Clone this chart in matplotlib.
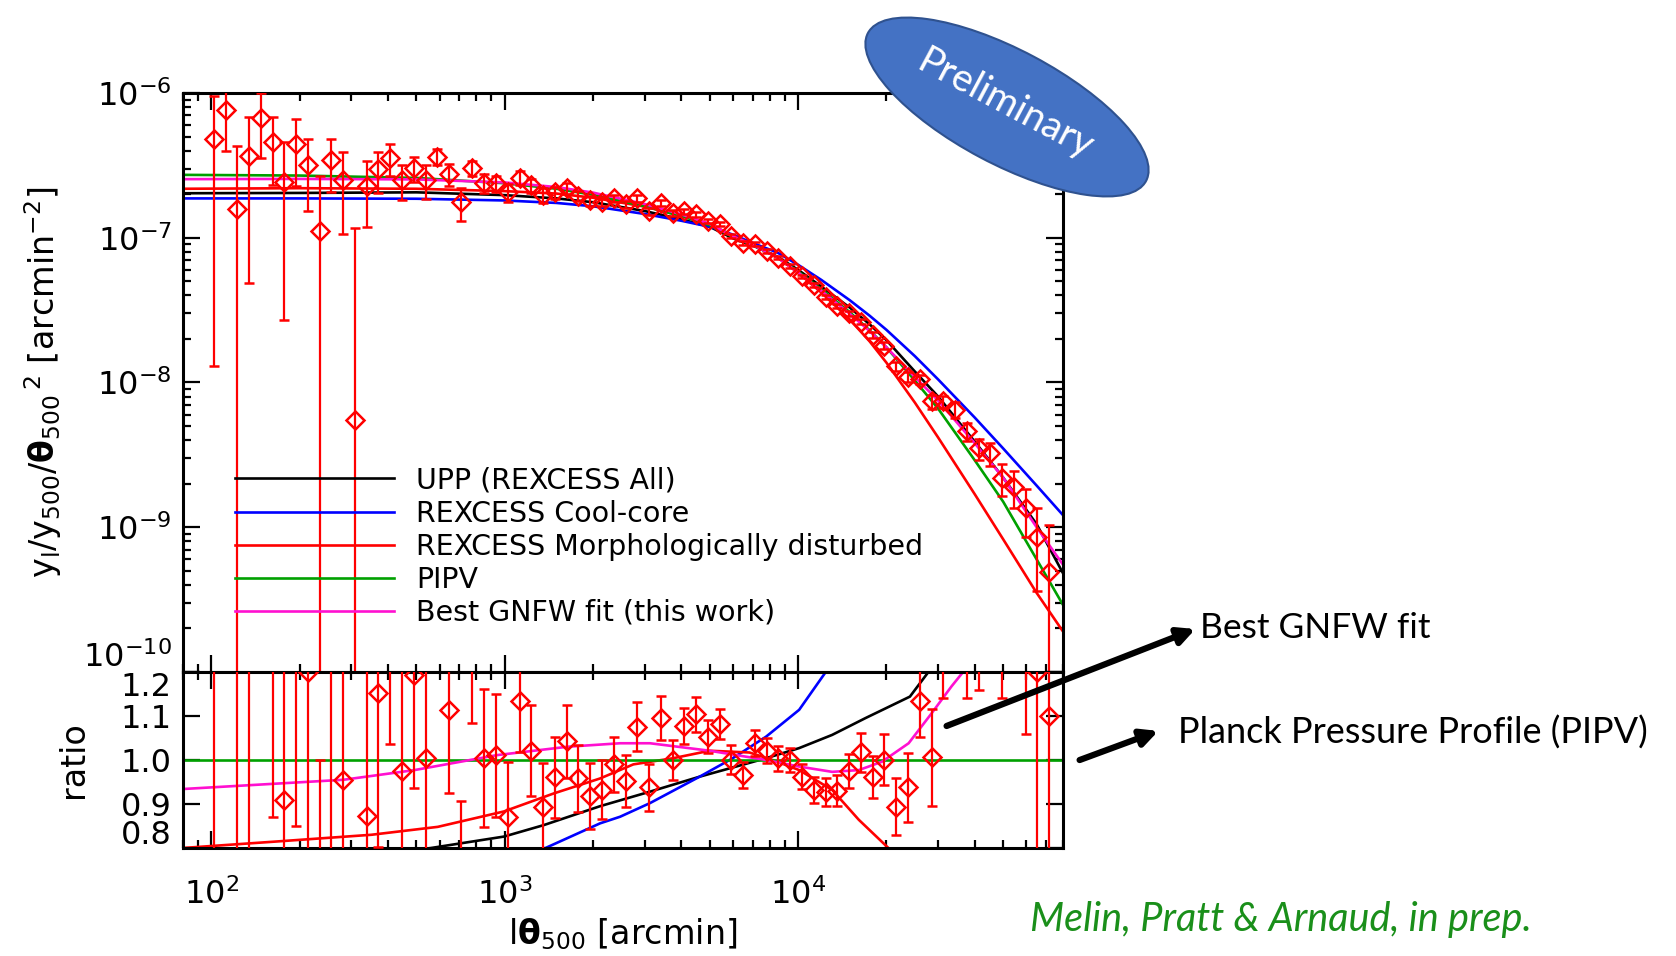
import matplotlib
matplotlib.use('Agg')
import matplotlib.pyplot as plt
import matplotlib.transforms as mtransforms
from matplotlib.patches import Ellipse
from matplotlib.ticker import FormatStrFormatter, NullLocator

plt.rcParams['font.family'] = 'DejaVu Sans'
plt.rcParams['mathtext.fontset'] = 'dejavusans'

# stacked profile (arcmin), y profile and its error
theta = [102, 112, 122, 134, 147, 162, 177, 194, 213, 234, 256, 281, 308, 338, 371, 407,
         446, 489, 537, 589, 646, 708, 776, 852, 934, 1024, 1123, 1232, 1351, 1482, 1625,
         1782, 1955, 2144, 2351, 2579, 2828, 3102, 3402, 3731, 4092, 4488, 4922, 5398, 5921,
         6493, 7122, 7811, 8566, 9395, 10300, 11300, 12400, 13600, 14900, 16360, 17940,
         19680, 21580, 23670, 25970, 28480, 31240, 34260, 37580, 41220, 45210, 49590, 54390,
         59660, 65440, 71770]
yprof = [4.8e-7, 7.6e-7, 1.58e-7, 3.67e-7, 6.76e-7, 4.56e-7, 2.44e-7, 4.45e-7, 3.18e-7,
         1.12e-7, 3.44e-7, 2.5e-7, 5.5e-9, 2.28e-7, 2.97e-7, 3.57e-7, 2.5e-7, 3.02e-7, 2.5e-7,
         3.63e-7, 2.74e-7, 1.76e-7, 3.02e-7, 2.4e-7, 2.38e-7, 2.06e-7, 2.6e-7, 2.3e-7, 1.97e-7,
         2.06e-7, 2.2e-7, 1.94e-7, 1.81e-7, 1.78e-7, 1.87e-7, 1.70e-7, 1.87e-7, 1.52e-7,
         1.73e-7, 1.48e-7, 1.52e-7, 1.45e-7, 1.31e-7, 1.25e-7, 1.03e-7, 9.25e-8, 9.05e-8,
         8.1e-8, 7.3e-8, 6.4e-8, 5.4e-8, 4.7e-8, 3.92e-8, 3.38e-8, 3.01e-8, 2.63e-8, 2.13e-8,
         1.8e-8, 1.3e-8, 1.1e-8, 1.05e-8, 7.4e-9, 7.4e-9, 6.5e-9, 4.6e-9, 3.5e-9, 3.24e-9,
         2.2e-9, 1.9e-9, 1.35e-9, 8.6e-10, 4.9e-10]
yprof_err = [4.67e-7, 3.6e-7, 2.72e-7, 3.18e-7, 3.2e-7, 2.25e-7, 2.17e-7, 2.18e-7, 1.65e-7,
             1.55e-7, 1.38e-7, 1.44e-7, 1.12e-7, 1.1e-7, 9.2e-8, 9.0e-8, 6.7e-8, 6.0e-8, 6.6e-8,
             4.7e-8, 4.7e-8, 4.6e-8, 3.7e-8, 3.5e-8, 3.0e-8, 2.8e-8, 3.0e-8, 2.6e-8, 2.2e-8,
             2.0e-8, 1.8e-8, 1.5e-8, 1.4e-8, 1.2e-8, 1.1e-8, 1.0e-8, 9.5e-9, 8.5e-9, 8.0e-9,
             6.5e-9, 5.8e-9, 5.2e-9, 4.6e-9, 4.0e-9, 3.4e-9, 2.8e-9, 2.7e-9, 2.2e-9, 2.0e-9,
             1.8e-9, 1.6e-9, 1.5e-9, 1.3e-9, 1.3e-9, 1.2e-9, 1.1e-9, 1.0e-9, 1.0e-9, 9e-10,
             9e-10, 8e-10, 8e-10, 7e-10, 8e-10, 6.8e-10, 5.7e-10, 6e-10, 5.5e-10, 5.4e-10,
             5e-10, 5e-10, 5.4e-10]

# same profile divided by PIPV
ratio = [1.78, 2.85, 0.59, 1.36, 2.50, 1.69, 0.91, 1.65, 1.20, 0.42, 1.29, 0.955, 0.02,
         0.873, 1.152, 1.37, 0.975, 1.193, 1.004, 1.41, 1.114, 0.73, 1.23, 1.004, 1.011,
         0.871, 1.134, 1.021, 0.892, 0.961, 1.042, 0.958, 0.918, 0.932, 0.99, 0.952, 1.076,
         0.938, 1.095, 1.0, 1.078, 1.104, 1.053, 1.082, 1.0, 0.966, 1.038, 1.021, 1.004, 1.0,
         0.962, 0.932, 0.928, 0.93, 0.975, 1.017, 0.962, 1.0, 0.894, 0.938, 1.133, 1.006,
         1.25, 1.50, 1.31, 1.33, 1.60, 1.37, 1.60, 1.35, 1.20, 1.10]
ratio_err = [1.80, 1.35, 1.01, 1.20, 1.18, 0.82, 0.80, 0.80, 0.63, 0.58, 0.52, 0.55, 0.43,
             0.43, 0.35, 0.334, 0.26, 0.256, 0.26, 0.18, 0.19, 0.177, 0.145, 0.157, 0.14,
             0.125, 0.115, 0.104, 0.10, 0.092, 0.084, 0.077, 0.074, 0.067, 0.062, 0.06, 0.055,
             0.053, 0.05, 0.045, 0.041, 0.04, 0.037, 0.034, 0.033, 0.03, 0.03, 0.028, 0.028,
             0.028, 0.029, 0.03, 0.032, 0.035, 0.039, 0.044, 0.048, 0.058, 0.065, 0.078, 0.08,
             0.11, 0.11, 0.19, 0.17, 0.17, 0.30, 0.23, 0.35, 0.29, 0.70, 1.20]

# pressure profile models
model_theta = [80, 200, 500, 1000, 1500, 2000, 3000, 4000, 5000, 6000, 7000, 8500, 10000,
               12000, 15000, 17500, 20000, 25000, 30000, 40000, 50000, 65000, 80000]
upp = [2.03e-7, 2.04e-7, 2.06e-7, 1.97e-7, 1.87e-7, 1.76e-7, 1.53e-7, 1.34e-7, 1.19e-7,
       9.9e-8, 8.84e-8, 7.4e-8, 6.0e-8, 4.6e-8, 3.29e-8, 2.53e-8, 1.96e-8, 1.19e-8, 8.0e-9,
       3.9e-9, 2.2e-9, 1.05e-9, 4.8e-10]
cool_core = [1.87e-7, 1.87e-7, 1.86e-7, 1.81e-7, 1.74e-7, 1.65e-7, 1.46e-7, 1.31e-7, 1.19e-7,
             1.05e-7, 9.2e-8, 7.9e-8, 6.5e-8, 5.11e-8, 3.70e-8, 2.90e-8, 2.31e-8, 1.52e-8,
             1.05e-8, 5.72e-9, 3.5e-9, 1.94e-9, 1.21e-9]
disturbed = [2.18e-7, 2.2e-7, 2.18e-7, 2.1e-7, 2.02e-7, 1.89e-7, 1.64e-7, 1.42e-7, 1.246e-7,
             1.03e-7, 9.0e-8, 7.3e-8, 5.72e-8, 4.18e-8, 2.72e-8, 1.93e-8, 1.37e-8, 7.26e-9,
             4.17e-9, 1.69e-9, 8.25e-10, 3.52e-10, 1.9e-10]
pipv = [2.72e-7, 2.69e-7, 2.59e-7, 2.38e-7, 2.18e-7, 1.98e-7, 1.65e-7, 1.41e-7, 1.22e-7,
        1.01e-7, 8.9e-8, 7.33e-8, 5.85e-8, 4.4e-8, 3.06e-8, 2.3e-8, 1.75e-8, 1.03e-8, 6.6e-9,
        2.9e-9, 1.5e-9, 6.0e-10, 2.9e-10]
best_fit = [2.54e-7, 2.55e-7, 2.53e-7, 2.41e-7, 2.24e-7, 2.05e-7, 1.71e-7, 1.45e-7, 1.246e-7,
            1.02e-7, 8.94e-8, 7.3e-8, 5.76e-8, 4.3e-8, 2.98e-8, 2.27e-8, 1.75e-8, 1.09e-8,
            7.5e-9, 3.8e-9, 2.2e-9, 1.0e-9, 5.5e-10]

# models divided by PIPV
upp_ratio_x = [80, 200, 561, 995, 1358, 2113, 3126, 4613, 7775, 10080, 13060, 16940, 24040,
               27800, 78500]
upp_ratio = [0.747, 0.76, 0.80, 0.826, 0.852, 0.895, 0.928, 0.962, 1.004, 1.027, 1.057,
             1.095, 1.144, 1.2, 1.57]
cool_ratio_x = [80, 1377, 2113, 2472, 3126, 4613, 5985, 7775, 10080, 12420, 78500]
cool_ratio = [0.687, 0.80, 0.856, 0.871, 0.902, 0.962, 1.004, 1.053, 1.114, 1.2, 3.7]
dist_ratio_x = [80, 161, 351, 591, 993, 1469, 2113, 2743, 3750, 4990, 6820, 8180, 10080,
                13060, 16100, 20300, 30000]
dist_ratio = [0.80, 0.814, 0.83, 0.848, 0.883, 0.924, 0.958, 0.99, 1.004, 1.021, 1.017, 1.0,
              0.977, 0.932, 0.864, 0.80, 0.5]
best_ratio_x = [80, 282, 492, 940, 1633, 2472, 3126, 4990, 7775, 10080, 13060, 16100, 19300,
                23800, 28500, 33300, 36500, 78500]
best_ratio = [0.934, 0.955, 0.977, 1.011, 1.03, 1.038, 1.038, 1.021, 1.0, 0.985, 0.973, 0.977,
              0.996, 1.038, 1.106, 1.167, 1.2, 1.79]
pipv_ratio_x = [80, 80000]
pipv_ratio = [1.0, 1.0]

labels = ['UPP (REXCESS All)', 'REXCESS Cool-core', 'REXCESS Morphologically disturbed',
          'PIPV', 'Best GNFW fit (this work)']
colors = ['black', '#0000ff', '#ff0000', '#00a000', '#ff10d0']

fig = plt.figure(figsize=(16.76, 9.56), dpi=100)
ax = fig.add_axes([0.1092, 0.2971, 0.5251, 0.6056])
axr = fig.add_axes([0.1092, 0.1130, 0.5251, 0.1841], sharex=ax)

lw = 1.9
pts = dict(fmt='D', ms=9, mfc='none', mec='red', mew=1.8, ecolor='red', elinewidth=1.6,
           capsize=3.5, capthick=1.6, zorder=5)

for yy, lab, c in zip([upp, cool_core, disturbed, pipv, best_fit], labels, colors):
    ax.plot(model_theta, yy, color=c, lw=lw, label=lab)
ax.errorbar(theta, yprof, yerr=yprof_err, **pts)

ax.set_xscale('log')
ax.set_yscale('log', nonpositive='clip')
ax.set_xlim(80, 80000)
ax.set_ylim(1e-10, 1e-6)
ax.set_yticks([1e-10, 1e-9, 1e-8, 1e-7, 1e-6])
ax.set_ylabel(r'y$_{\rm l}$/y$_{500}$/$\mathbf{\theta}_{500}$$^{\,2}$ [arcmin$^{-2}$]',
              fontsize=24, labelpad=14)
ax.tick_params(labelbottom=False)

ax.legend(loc='upper left', bbox_to_anchor=(0.059, 0.355), frameon=False, fontsize=20.5,
          handlelength=5.6, handletextpad=0.77, labelspacing=0.18, borderpad=0,
          borderaxespad=0)

for xx, yy, c in zip([upp_ratio_x, cool_ratio_x, dist_ratio_x, pipv_ratio_x, best_ratio_x],
                     [upp_ratio, cool_ratio, dist_ratio, pipv_ratio, best_ratio], colors):
    axr.plot(xx, yy, color=c, lw=lw)
axr.errorbar(theta, ratio, yerr=ratio_err, **pts)
axr.set_ylim(0.8, 1.2)
axr.set_yticks([0.8, 0.9, 1.0, 1.1, 1.2])
axr.yaxis.set_minor_locator(NullLocator())
axr.yaxis.set_major_formatter(FormatStrFormatter('%.1f'))
axr.set_ylabel('ratio', fontsize=24, labelpad=22)
axr.set_xlabel(r'l$\mathbf{\theta}_{500}$ [arcmin]', fontsize=24, labelpad=4)

for a in (ax, axr):
    for s in a.spines.values():
        s.set_linewidth(2.2)
    a.tick_params(which='both', direction='in', top=True, right=True, width=1.6,
                  labelsize=23, pad=8)
    a.tick_params(which='major', length=12)
    a.tick_params(which='minor', length=6)
axr.tick_params(axis='x', which='major', pad=22)

# keep the panel-boundary labels apart
fig.canvas.draw()


def nudge(label, dy):
    label.set_transform(label.get_transform() +
                        mtransforms.ScaledTranslation(0, dy / 72, fig.dpi_scale_trans))


nudge(ax.get_yticklabels()[0], 13)
nudge(axr.get_yticklabels()[0], 11.5)
nudge(axr.get_yticklabels()[-1], -9)

# annotations in figure pixels
ov = fig.add_axes([0, 0, 1, 1], facecolor='none')
ov.set_xlim(0, 1676)
ov.set_ylim(956, 0)
ov.axis('off')

ov.add_patch(Ellipse((1007, 107), 315, 114, angle=28, facecolor='#4472c4',
                     edgecolor='#2f528f', lw=1.5))
ov.text(1005, 104, 'Preliminary', rotation=-28, color='white', fontsize=28, family='Lato',
        ha='center', va='center', rotation_mode='anchor')

ov.annotate('', xy=(1198, 628), xytext=(944, 727),
            arrowprops=dict(arrowstyle='-|>', lw=4.5, color='black', mutation_scale=25))
ov.annotate('', xy=(1161, 730), xytext=(1077, 761),
            arrowprops=dict(arrowstyle='-|>', lw=4.5, color='black', mutation_scale=25))
ov.text(1200, 628, 'Best GNFW fit', fontsize=25.5, family='Lato', ha='left', va='center')
ov.text(1178, 733, 'Planck Pressure Profile (PIPV)', fontsize=26, family='Lato',
        ha='left', va='center')
ov.text(1030, 920, 'Melin, Pratt & Arnaud, in prep.', fontsize=28.5, family='Lato',
        style='italic', color='#1a8f1a', ha='left', va='center')

fig.savefig('out.png', dpi=100)
